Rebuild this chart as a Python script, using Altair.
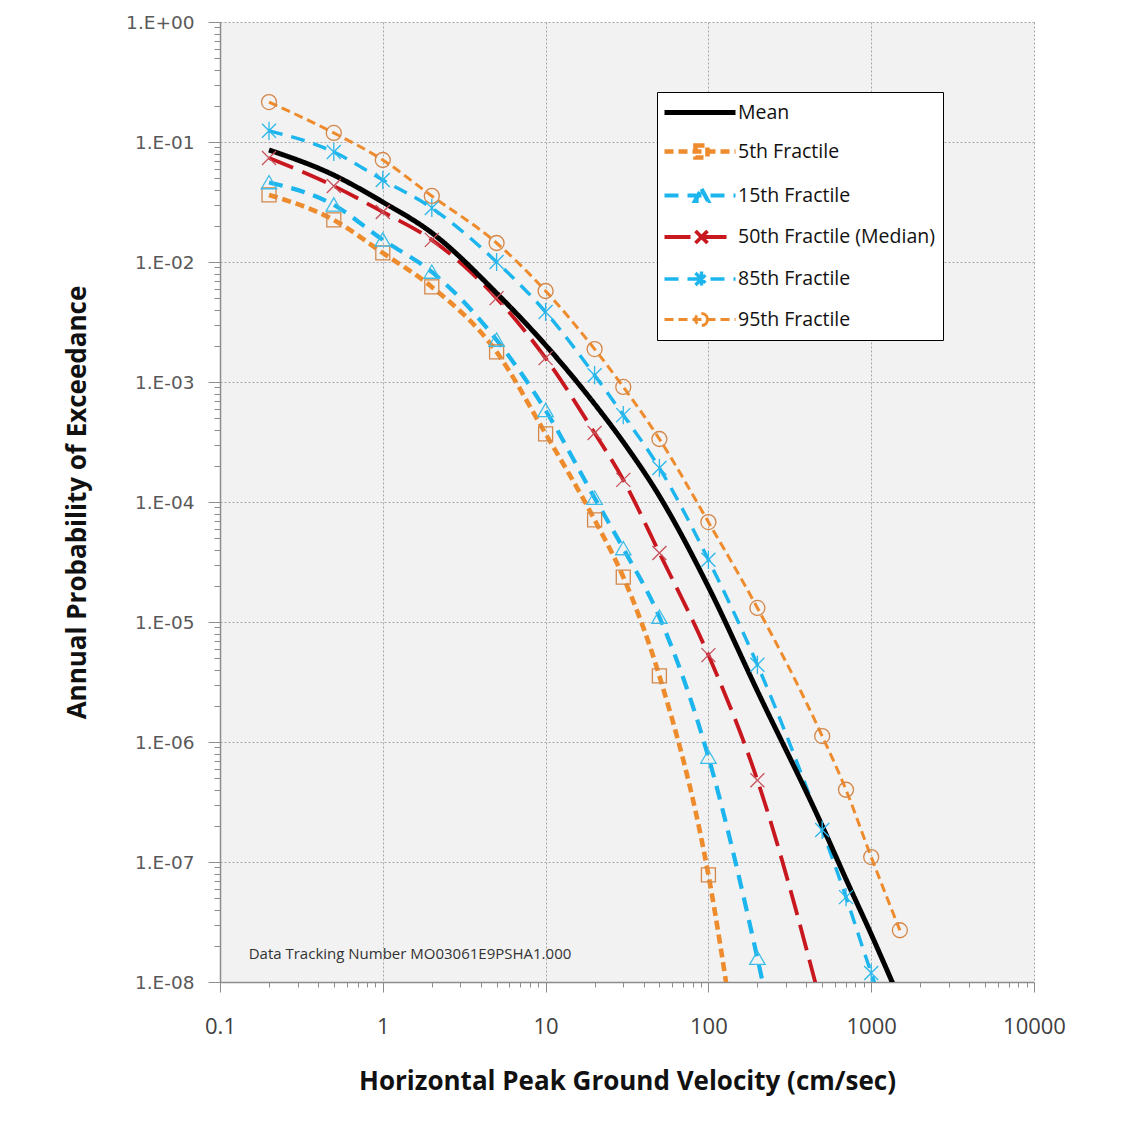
import altair as alt
import pandas as pd

series_names = ["Mean", "5th Fractile", "15th Fractile", "50th Fractile (Median)", "85th Fractile", "95th Fractile"]
line_colors = ["#000000", "#EE8B2C", "#1CB5EE", "#C8171E", "#1CB5EE", "#EE8B2C"]
line_dashes = [[1, 0], [9, 5], [14, 9], [26, 10], [14, 9], [9, 5]]
line_widths = [5, 3, 4, 4, 4, 3]

mean_x = [0.2, 0.5, 1, 2, 5, 10, 20, 30, 50, 100, 200, 500, 700, 1000, 1500]
mean_y = [0.0858, 0.053, 0.0316, 0.0175, 0.0055, 2.03e-3, 6.56e-4, 3.16e-4, 1.12e-4, 1.96e-5, 2.66e-6, 2.0e-7, 7.2e-8, 2.5e-8, 7.1e-9]

f05_x = [0.2, 0.5, 1, 2, 5, 10, 20, 30, 50, 100, 200]
f05_y = [0.0362, 0.0224, 0.0119, 0.0062, 0.00178, 3.7e-4, 7.1e-5, 2.37e-5, 3.55e-6, 7.8e-8, 1.3e-10]

f15_x = [0.2, 0.5, 1, 2, 5, 10, 20, 30, 50, 100, 200, 500]
f15_y = [0.046, 0.0299, 0.0153, 0.00826, 0.00224, 5.8e-4, 1.08e-4, 4.1e-5, 1.1e-5, 7.5e-7, 1.58e-8, 3e-11]

f50_x = [0.2, 0.5, 1, 2, 5, 10, 20, 30, 50, 100, 200, 500]
f50_y = [0.0736, 0.043, 0.0261, 0.0153, 0.005, 1.58e-3, 3.76e-4, 1.53e-4, 3.76e-5, 5.3e-6, 4.8e-7, 6e-9]

f85_x = [0.2, 0.5, 1, 2, 5, 10, 20, 30, 50, 100, 200, 500, 700, 1000, 1500]
f85_y = [0.124, 0.0826, 0.0482, 0.0282, 0.01, 0.00383, 1.14e-3, 5.3e-4, 1.92e-4, 3.3e-5, 4.4e-6, 1.85e-7, 5.1e-8, 1.19e-8, 2.6e-9]

f95_x = [0.2, 0.5, 1, 2, 5, 10, 20, 30, 50, 100, 200, 500, 700, 1000, 1500]
f95_y = [0.215, 0.119, 0.0708, 0.0355, 0.0144, 0.00573, 0.00188, 9.1e-4, 3.35e-4, 6.8e-5, 1.31e-5, 1.12e-6, 4.0e-7, 1.1e-7, 2.7e-8]

x_major = [0.1, 1, 10, 100, 1000, 10000]
y_major = [1, 1e-1, 1e-2, 1e-3, 1e-4, 1e-5, 1e-6, 1e-7, 1e-8]
minor_mult = [2, 3, 4, 5, 6, 7, 8, 9]

note_text = ["Data Tracking Number MO03061E9PSHA1.000"]
note_x = [0.15]
note_y = [1.7e-8]

x_ticks = sorted(x_major + [m * d for d in x_major[:-1] for m in minor_mult])
y_ticks = sorted(y_major + [m * d for d in y_major[1:] for m in minor_mult])

frames = []
for name, xs, ys in [
    ("Mean", mean_x, mean_y),
    ("5th Fractile", f05_x, f05_y),
    ("15th Fractile", f15_x, f15_y),
    ("50th Fractile (Median)", f50_x, f50_y),
    ("85th Fractile", f85_x, f85_y),
    ("95th Fractile", f95_x, f95_y),
]:
    frames.append(pd.DataFrame({"series": name, "pgv": xs, "prob": ys}))
df = pd.concat(frames, ignore_index=True)

is_major = "abs(log(datum.value)/LN10 - round(log(datum.value)/LN10)) < 0.000001"

x_enc = alt.X(
    "pgv:Q",
    scale=alt.Scale(type="log", domain=[0.1, 10000], nice=False),
    axis=alt.Axis(
        title="Horizontal Peak Ground Velocity (cm/sec)",
        values=x_ticks,
        format="~g",
        labelExpr=f"({is_major}) ? datum.label : ''",
        labelFlush=False,
        labelOverlap=False,
        labelFont="Open Sans",
        labelFontSize=22,
        labelColor="#404040",
        labelPadding=24,
        tickSize={"condition": {"test": is_major, "value": 10}, "value": 5},
        gridOpacity={"condition": {"test": is_major, "value": 1}, "value": 0},
        titlePadding=31,
    ),
)
y_enc = alt.Y(
    "prob:Q",
    scale=alt.Scale(type="log", domain=[1e-8, 1], nice=False),
    axis=alt.Axis(
        title="Annual Probability of Exceedance",
        values=y_ticks,
        labelExpr=f"({is_major}) ? (datum.value >= 1 ? '1.E+00' : '1.E-0' + round(-log(datum.value)/LN10)) : ''",
        labelOverlap=False,
        labelFont="DejaVu Sans",
        labelFontSize=18.5,
        labelColor="#595959",
        labelPadding=14,
        tickSize={"condition": {"test": is_major, "value": 12}, "value": 6},
        gridOpacity={"condition": {"test": is_major, "value": 1}, "value": 0},
        titlePadding=35,
    ),
)

legend_paths = [
    "M-1.3,0H5.8",
    "M-1.3,0H5.8M1.8,-0.6H3.0V0.6H1.8Z",
    "M-1.3,0H5.8M2.4,-0.65L3.05,0.55H1.75Z",
    "M-1.3,0H5.8M1.8,-0.6L3.0,0.6M1.8,0.6L3.0,-0.6",
    "M-1.3,0H5.8M1.8,-0.6L3.0,0.6M1.8,0.6L3.0,-0.6M2.4,-0.75V0.75",
    "M-1.3,0H5.8M3.0,0A0.6,0.6,0,1,1,1.8,0A0.6,0.6,0,1,1,3.0,0",
]

color_enc = alt.Color("series:N", scale=alt.Scale(domain=series_names, range=line_colors), legend=alt.Legend(title=None))
dash_enc = alt.StrokeDash("series:N", scale=alt.Scale(domain=series_names, range=line_dashes), legend=alt.Legend(title=None))
width_enc = alt.StrokeWidth("series:N", scale=alt.Scale(domain=series_names, range=line_widths), legend=alt.Legend(title=None))
shape_enc = alt.Shape("series:N", scale=alt.Scale(domain=series_names, range=legend_paths), legend=alt.Legend(title=None))

base = alt.Chart(df)

fractile_lines = base.transform_filter("datum.series != 'Mean'").mark_line(
    interpolate="monotone", clip=True
).encode(x=x_enc, y=y_enc, color=color_enc, strokeDash=dash_enc, strokeWidth=width_enc, detail="series:N")

mean_line = base.transform_filter("datum.series == 'Mean'").mark_line(
    interpolate="monotone", clip=True
).encode(x=x_enc, y=y_enc, color=color_enc, strokeDash=dash_enc, strokeWidth=width_enc)

marker_specs = [
    ("5th Fractile", "M-1,-1H1V1H-1Z", 196, "#D4874A"),
    ("15th Fractile", "M0,-1L1.1,0.9H-1.1Z", 196, "#3DBDE8"),
    ("50th Fractile (Median)", "M-1,-1L1,1M-1,1L1,-1", 196, "#C8505A"),
    ("85th Fractile", "M-1,-1L1,1M-1,1L1,-1M0,-1.3V1.3", 196, "#2CB8EC"),
    ("95th Fractile", "circle", 225, "#D4874A"),
]
marker_layers = []
for name, shp, sz, col in marker_specs:
    marker_layers.append(
        base.transform_filter(f"datum.series == '{name}'").mark_point(
            shape=shp, size=sz, filled=False, color=col, strokeWidth=1.3, opacity=1, clip=True
        ).encode(x=x_enc, y=y_enc)
    )

legend_layer = base.transform_filter("false").mark_point(filled=False, opacity=1).encode(
    x=x_enc, y=y_enc, color=color_enc, strokeDash=dash_enc, strokeWidth=width_enc, shape=shape_enc
)

note = alt.Chart(pd.DataFrame({"pgv": note_x, "prob": note_y, "text": note_text})).mark_text(
    align="left", baseline="middle", font="Open Sans", fontSize=15, color="#333333"
).encode(x=x_enc, y=y_enc, text="text:N")

chart = alt.layer(
    fractile_lines, mean_line, *marker_layers, legend_layer, note
).properties(
    width=814,
    height=960,
    autosize=alt.AutoSizeParams(type="none"),
    padding={"left": 220, "top": 22, "right": 110, "bottom": 153},
    background="white",
).configure_view(
    fill="#F2F2F2", stroke=None
).configure_axis(
    gridColor="#A6A6A6",
    gridDash=[2, 2],
    gridWidth=1,
    domainColor="#8C8C8C",
    domainWidth=1.5,
    tickColor="#8C8C8C",
    titleFont="Open Sans",
    titleFontSize=26,
    titleFontWeight="bold",
    titleColor="#111111",
).configure_legend(
    orient="none",
    legendX=437,
    legendY=70,
    strokeColor="black",
    fillColor="white",
    padding=8,
    rowPadding=13,
    labelFont="Open Sans",
    labelFontSize=19.5,
    labelColor="#111111",
    symbolSize=400,
    labelOffset=48,
    labelLimit=400,
)

chart.save("out.html", embed_options={"renderer": "svg", "actions": False})
